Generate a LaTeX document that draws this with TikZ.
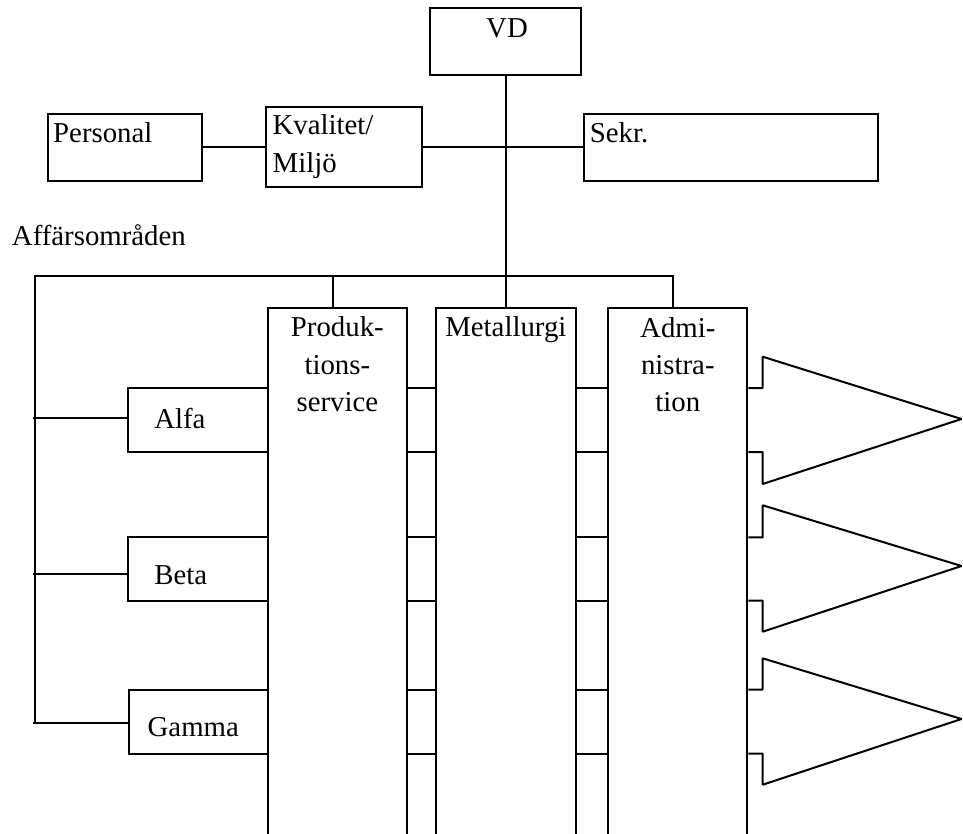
\documentclass[tikz,border=0pt]{standalone}
\usepackage{fontspec}
\setmainfont{Liberation Serif}
\begin{document}
\begin{tikzpicture}[x=1pt,y=-1pt,
  line width=2pt,
  box/.style={draw, rectangle, inner sep=0pt, line width=2pt},
  col/.style={box, minimum width=139.3pt, minimum height=541.7pt},
  txt/.style={inner sep=0pt, font=\fontsize{28.8}{37.3}\selectfont},
  wire/.style={line width=2pt, line cap=butt},
  pennant/.style={line width=2pt, line join=bevel},
]
\clip (0,0) rectangle (963,834);

% top management
\node[box, minimum width=150.5pt, minimum height=66.7pt] (vd) at (505.5,41.7) {};
\node[box, minimum width=153.7pt, minimum height=66.7pt] (pers) at (124.8,147.3) {};
\node[box, minimum width=156.1pt, minimum height=80pt] (kval) at (343.6,146.7) {};
\node[box, minimum width=293.7pt, minimum height=66.7pt] (sekr) at (730.9,147.3) {};

% multi-line labels are placed by the baseline of their last line
\node[txt, anchor=base] (vd-t) at (507,37.3) {VD};
\node[txt, anchor=base west] (pers-t) at (52.2,142.7) {Personal};
\node[txt, anchor=base west, align=left] (kval-t) at (271.7,172.7) {Kvalitet/\\[1pt]Miljö};
\node[txt, anchor=base west] (sekr-t) at (588.8,142.7) {Sekr.};
\node[txt, anchor=base west] (aff) at (11,245.7) {Affärsområden};

% functional columns
\node[col] (prod) at (337.35,579.15) {};
\node[col] (met) at (505.85,579.15) {};
\node[col, minimum width=139pt] (admin) at (677.8,579.15) {};

\node[txt, anchor=base, align=center] (prod-t) at (337.35,411.5) {Produk-\\tions-\\service};
\node[txt, anchor=base] (met-t) at (505.85,336.5) {Metallurgi};
\node[txt, anchor=base, align=center] (admin-t) at (677.8,411.7) {Admi-\\nistra-\\tion};

% business areas
\node[box, minimum width=140pt, minimum height=64pt] (alfa) at (197.7,420) {};
\node[box, minimum width=140pt, minimum height=63.4pt] (beta) at (197.7,569) {};
\node[box, minimum width=138.4pt, minimum height=64.2pt] (gamma) at (198.5,721.6) {};

\node[txt, anchor=base west] (alfa-t) at (153.3,428.7) {Alfa};
\node[txt, anchor=base west] (beta-t) at (153.3,584.5) {Beta};
\node[txt, anchor=base west] (gamma-t) at (146.7,736.7) {Gamma};

% management connectors
\draw[wire] (vd.south) -- (vd.south |- met.north);
\draw[wire] (pers.east) -- (pers.east -| kval.west);
\draw[wire] (kval.east) -- (kval.east -| sekr.west);

% bus to columns and business areas
\coordinate (busL) at (35,276);
\coordinate (prodTap) at (333.3,276);
\coordinate (admTap) at (673.3,276);
\coordinate (ta) at (32.7,417.7);
\coordinate (tb) at (32.7,574.3);
\coordinate (tg) at (32.7,723.1);
\draw[wire] (busL |- tg) -- (busL) -- (admTap) -- (admTap |- admin.north);
\draw[wire] (prodTap) -- (prodTap |- prod.north);
\draw[wire] (ta) -- (ta -| alfa.west);
\draw[wire] (tb) -- (tb -| beta.west);
\draw[wire] (tg) -- (tg -| gamma.west);

% row links between the columns
\foreach \y [count=\i] in {388,452,537.3,600.7,689.5,753.7} {
  \coordinate (r\i) at (0,\y);
  \draw[wire] (prod.east |- r\i) -- (met.west |- r\i);
  \draw[wire] (met.east |- r\i) -- (admin.west |- r\i);
}

% pennants out of the administration column
\foreach \a/\b/\top/\bot/\tip in {388/452/356.7/484/419, 537.3/600.7/505.3/631.7/566, 689.5/753.7/658.3/784.7/719} {
  \coordinate (pu) at (762.7,\a);
  \coordinate (pl) at (762.7,\b);
  \draw[pennant] (admin.east |- pu) -- (pu) -- (762.7,\top) -- (961.5,\tip)
    -- (762.7,\bot) -- (pl) -- (admin.east |- pl);
}
\end{tikzpicture}
\end{document}
